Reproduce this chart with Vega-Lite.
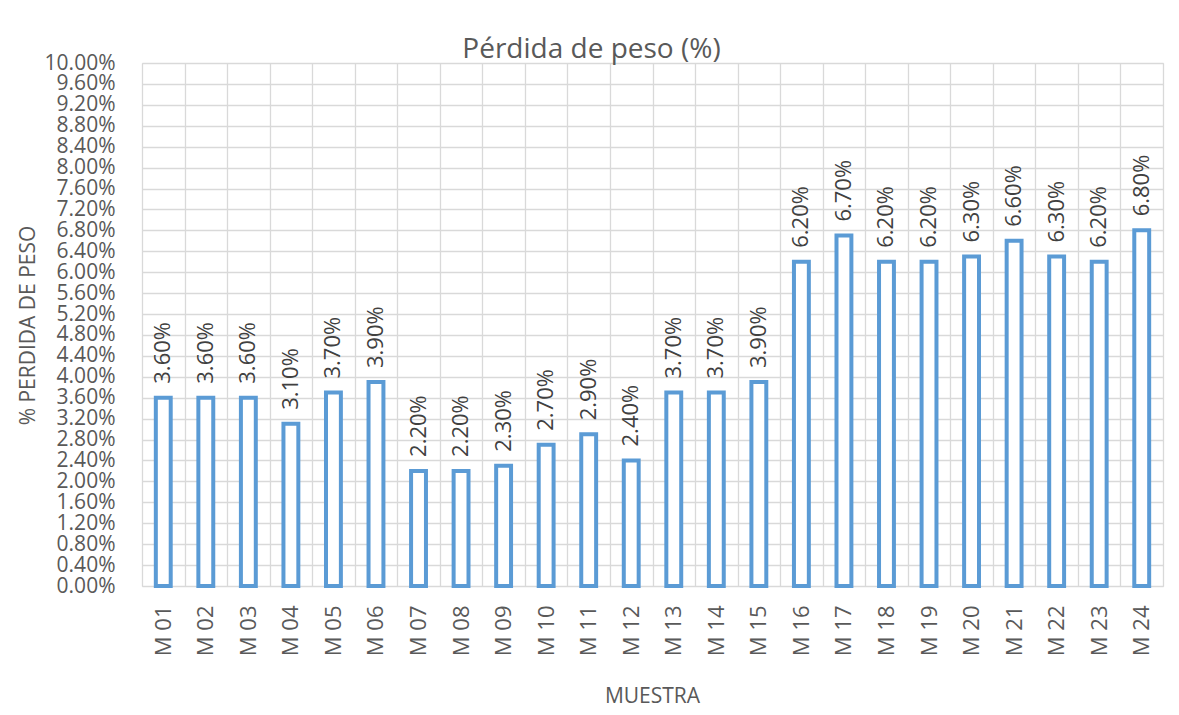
{
  "$schema": "https://vega.github.io/schema/vega-lite/v6.json",
  "autosize": {"type": "none"},
  "width": 1021,
  "height": 523,
  "padding": {"left": 142, "top": 63, "right": 16, "bottom": 129},
  "background": "white",
  "title": {
    "text": "Pérdida de peso (%)",
    "font": "Open Sans",
    "fontSize": 28,
    "fontWeight": "normal",
    "color": "#595959",
    "anchor": "middle",
    "frame": "group",
    "baseline": "alphabetic",
    "offset": -34,
    "dx": -61
  },
  "config": {
    "view": {"stroke": "#d9d9d9", "strokeWidth": 1},
    "font": "Open Sans"
  },
  "data": {
    "values": [
      {"muestra": "M 01", "perdida": 0.036},
      {"muestra": "M 02", "perdida": 0.036},
      {"muestra": "M 03", "perdida": 0.036},
      {"muestra": "M 04", "perdida": 0.031},
      {"muestra": "M 05", "perdida": 0.037},
      {"muestra": "M 06", "perdida": 0.039},
      {"muestra": "M 07", "perdida": 0.022},
      {"muestra": "M 08", "perdida": 0.022},
      {"muestra": "M 09", "perdida": 0.023},
      {"muestra": "M 10", "perdida": 0.027},
      {"muestra": "M 11", "perdida": 0.029},
      {"muestra": "M 12", "perdida": 0.024},
      {"muestra": "M 13", "perdida": 0.037},
      {"muestra": "M 14", "perdida": 0.037},
      {"muestra": "M 15", "perdida": 0.039},
      {"muestra": "M 16", "perdida": 0.062},
      {"muestra": "M 17", "perdida": 0.067},
      {"muestra": "M 18", "perdida": 0.062},
      {"muestra": "M 19", "perdida": 0.062},
      {"muestra": "M 20", "perdida": 0.063},
      {"muestra": "M 21", "perdida": 0.066},
      {"muestra": "M 22", "perdida": 0.063},
      {"muestra": "M 23", "perdida": 0.062},
      {"muestra": "M 24", "perdida": 0.068}
    ]
  },
  "encoding": {
    "x": {
      "field": "muestra",
      "type": "nominal",
      "sort": null,
      "scale": {"paddingInner": 0, "paddingOuter": 0},
      "axis": {
        "title": "MUESTRA",
        "titleFont": "Open Sans",
        "titleFontSize": 21,
        "titleFontWeight": "normal",
        "titleColor": "#595959",
        "titleX": 510,
        "titleY": 110,
        "titleBaseline": "middle",
        "labelAngle": -90,
        "labelFont": "Open Sans",
        "labelFontSize": 22,
        "labelColor": "#595959",
        "labelPadding": 19,
        "ticks": false,
        "domain": false,
        "grid": true,
        "tickBand": "extent",
        "gridColor": "#d9d9d9",
        "gridWidth": 1.3
      }
    },
    "y": {
      "field": "perdida",
      "type": "quantitative",
      "scale": {"domain": [0, 0.1], "nice": false},
      "axis": {
        "title": "% PERDIDA DE PESO",
        "titleFont": "Open Sans",
        "titleFontSize": 21,
        "titleFontWeight": "normal",
        "titleColor": "#595959",
        "titleX": -114,
        "titleY": 262,
        "titleBaseline": "middle",
        "values": [0, 0.004, 0.008, 0.012, 0.016, 0.02, 0.024, 0.028, 0.032, 0.036, 0.04, 0.044, 0.048, 0.052, 0.056, 0.06, 0.064, 0.068, 0.072, 0.076, 0.08, 0.084, 0.088, 0.092, 0.096, 0.1],
        "format": ".2%",
        "labelFont": "Open Sans",
        "labelFontSize": 21,
        "labelColor": "#595959",
        "labelPadding": 27,
        "labelOverlap": false,
        "labelBound": false,
        "ticks": false,
        "domain": false,
        "grid": true,
        "gridColor": "#d9d9d9",
        "gridWidth": 1.3
      }
    }
  },
  "layer": [
    {
      "mark": {
        "type": "bar",
        "width": {"band": 0.35},
        "fill": "white",
        "stroke": "#5b9bd5",
        "strokeWidth": 4
      }
    },
    {
      "mark": {
        "type": "text",
        "angle": 270,
        "align": "left",
        "baseline": "middle",
        "dx": 14,
        "font": "Open Sans",
        "fontSize": 22,
        "color": "#404040"
      },
      "encoding": {
        "text": {"field": "perdida", "type": "quantitative", "format": ".2%"}
      }
    }
  ]
}
